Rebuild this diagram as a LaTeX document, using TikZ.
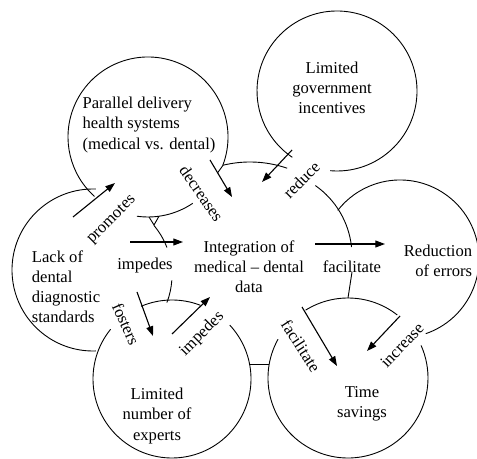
\documentclass[tikz,border=0pt]{standalone}
\usepackage{fontspec}
\setmainfont{Liberation Serif}
\usetikzlibrary{arrows.meta}
\begin{document}
\begin{tikzpicture}[x=0.254mm, y=0.254mm, every node/.style={font=\fontsize{12}{14.5}\selectfont, inner sep=0pt},
  ring/.style={line width=0.65pt},
  link/.style={line width=0.8pt, -{Triangle[length=7pt,width=5pt]}}]
\clip (0,0) rectangle (477,459);
% circle centres
\coordinate (cA) at (148,322);
\coordinate (cB) at (337,368);
\coordinate (cC) at (93,189);
\coordinate (cC2) at (95,184);
\coordinate (cD) at (172,80);
\coordinate (cE) at (348,81);
\coordinate (cF) at (400,200);
\coordinate (cR) at (266,203);
\coordinate (cT) at (250,183);
% concepts
\node[align=left] (par) at (149,334) {Parallel delivery\\health systems\\(medical vs. dental)};
\node[align=center] (gov) at (332,371) {Limited\\government\\incentives};
\node[align=left] (lack) at (66,172) {Lack of\\dental\\diagnostic\\standards};
\node[align=center] (integ) at (249,192) {Integration of\\medical – dental\\data};
\node[align=right] (err) at (438,198) {Reduction\\of errors};
\node[align=center] (exp) at (157,43) {Limited\\number of\\experts};
\node[align=center] (time) at (362,55) {Time\\savings};
% circles (open arcs)
\draw[ring] ([shift={(-21:80)}]cA) arc[start angle=-21, end angle=228, radius=80];
\draw[ring] ([shift={(262:80)}]cA) arc[start angle=262, end angle=304, radius=80];
\draw[ring] ([shift={(-95:80)}]cB) arc[start angle=-95, end angle=236, radius=80];
\draw[ring] ([shift={(88:81)}]cC) arc[start angle=88, end angle=272, radius=81];
\draw[ring] ([shift={(21:77)}]cC2) arc[start angle=21, end angle=40, radius=77];
\draw[ring] ([shift={(-21:77)}]cC2) arc[start angle=-21, end angle=-4, radius=77];
\draw[ring] ([shift={(141:79)}]cD) arc[start angle=141, end angle=403, radius=79];
\draw[ring] ([shift={(69:79)}]cD) arc[start angle=69, end angle=113, radius=79];
\draw[ring] ([shift={(151:80)}]cE) arc[start angle=151, end angle=384, radius=80];
\draw[ring] ([shift={(52:80)}]cE) arc[start angle=52, end angle=122, radius=80];
\draw[ring] ([shift={(-71:79)}]cF) arc[start angle=-71, end angle=142, radius=79];
\draw[ring] ([shift={(6:86)}]cR) arc[start angle=6, end angle=55, radius=86];
\draw[ring] ([shift={(71:114)}]cT) arc[start angle=71, end angle=104, radius=114];
% joins
\draw[ring] (149,242) -- (154,234) -- (159,242.8);
\draw[ring] (222.7,293.3) -- (217.5,286);
\draw[ring] (352,187) -- (348,161);
\draw[ring] (250,95) -- (269,95);
% link ends
\coordinate (pro1) at (73,242);   \coordinate (pro2) at (115,276);
\coordinate (dec1) at (210,299);  \coordinate (dec2) at (232,262);
\coordinate (red1) at (292,309);  \coordinate (red2) at (262,277);
\coordinate (imp1) at (130,217);  \coordinate (imp2) at (183,217);
\coordinate (fac1) at (315,215);  \coordinate (fac2) at (385,215);
\coordinate (fos1) at (137,167);  \coordinate (fos2) at (153,123);
\coordinate (imq1) at (172,125);  \coordinate (imq2) at (210,162);
\coordinate (fad1) at (302,152);  \coordinate (fad2) at (337,93);
\coordinate (inc1) at (400,143);  \coordinate (inc2) at (367,108);
% links
\draw[link] (pro1) -- (pro2);
\draw[link] (dec1) -- (dec2);
\draw[link] (red1) -- (red2);
\draw[link] (imp1) -- (imp2);
\draw[link] (fac1) -- (fac2);
\draw[link] (fos1) -- (fos2);
\draw[link] (imq1) -- (imq2);
\draw[link] (fad1) -- (fad2);
\draw[link] (inc1) -- (inc2);
% link labels
\node[rotate=45] (lpro) at (112,239) {promotes};
\node[rotate=-55] (ldec) at (201.5,265.5) {decreases};
\node[rotate=45] (lred) at (301.5,279) {reduce};
\node (limp) at (145,193) {impedes};
\node (lfac) at (352,192) {facilitate};
\node[rotate=-66] (lfos) at (126,135) {fosters};
\node[rotate=45] (limq) at (202,125) {impedes};
\node[rotate=-57] (lfad) at (301,113) {facilitate};
\node[rotate=46] (linc) at (402,114) {increase};
\end{tikzpicture}
\end{document}
